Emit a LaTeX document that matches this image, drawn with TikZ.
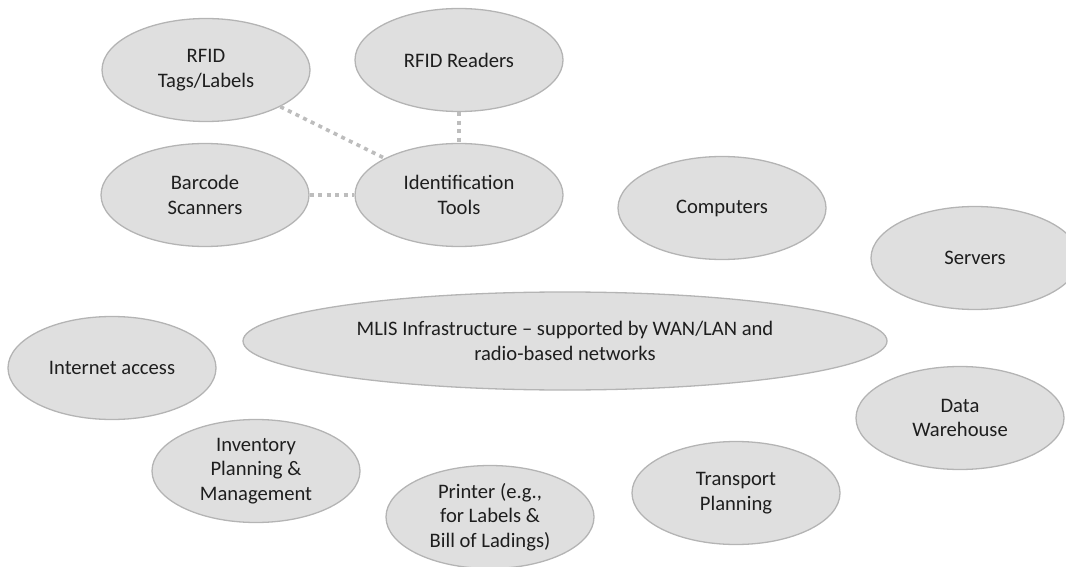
\documentclass[tikz,border=0pt]{standalone}
\usepackage{fontspec}
\setmainfont{Carlito}
\usetikzlibrary{shapes.geometric}
\definecolor{bubblefill}{HTML}{DFDFDF}
\definecolor{bubbleline}{HTML}{B4B4B4}
\definecolor{linkgray}{HTML}{BDBDBD}
\definecolor{textdark}{HTML}{1E1E1E}
\tikzset{
  bubble/.style={ellipse, draw=bubbleline, line width=1.3pt, fill=bubblefill,
    minimum width=208pt, minimum height=103pt, inner sep=0pt,
    align=center, text=textdark, font=\fontsize{20.6}{24.5}\selectfont},
  bigbubble/.style={bubble, minimum width=644pt, minimum height=98pt},
  link/.style={draw=linkgray, line width=3.6pt, dash pattern=on 4pt off 4.5pt}
}
\begin{document}
\begin{tikzpicture}[x=1pt,y=-1pt]
\useasboundingbox (0,0) rectangle (1066,567);

% identification cluster
\node[bubble] (tags)    at (206,70)  {RFID\\Tags/Labels};
\node[bubble] (readers) at (459,60)  {RFID Readers};
\node[bubble] (barcode) at (205,195) {Barcode\\Scanners};
\node[bubble] (ident)   at (459,195) {Identification\\Tools};

% other infrastructure elements
\node[bubble] (computers) at (722,208) {Computers};
\node[bubble] (servers)   at (975,258) {Servers};
\node[bigbubble] (mlis)   at (565,341) {MLIS Infrastructure -- supported by WAN/LAN and\\radio-based networks};
\node[bubble] (internet)  at (112,368) {Internet access};
\node[bubble] (warehouse) at (960,418) {Data\\Warehouse};
\node[bubble] (inventory) at (256,471) {Inventory\\Planning \&\\Management};
\node[bubble] (transport) at (736,493) {Transport\\Planning};
\node[bubble] (printer)   at (490,517) {Printer (e.g.,\\for Labels \&\\Bill of Ladings)};

% dotted links to the identification tools
\draw[link] (tags) -- (ident);
\draw[link] (readers) -- (ident);
\draw[link] (barcode) -- (ident);
\end{tikzpicture}
\end{document}
